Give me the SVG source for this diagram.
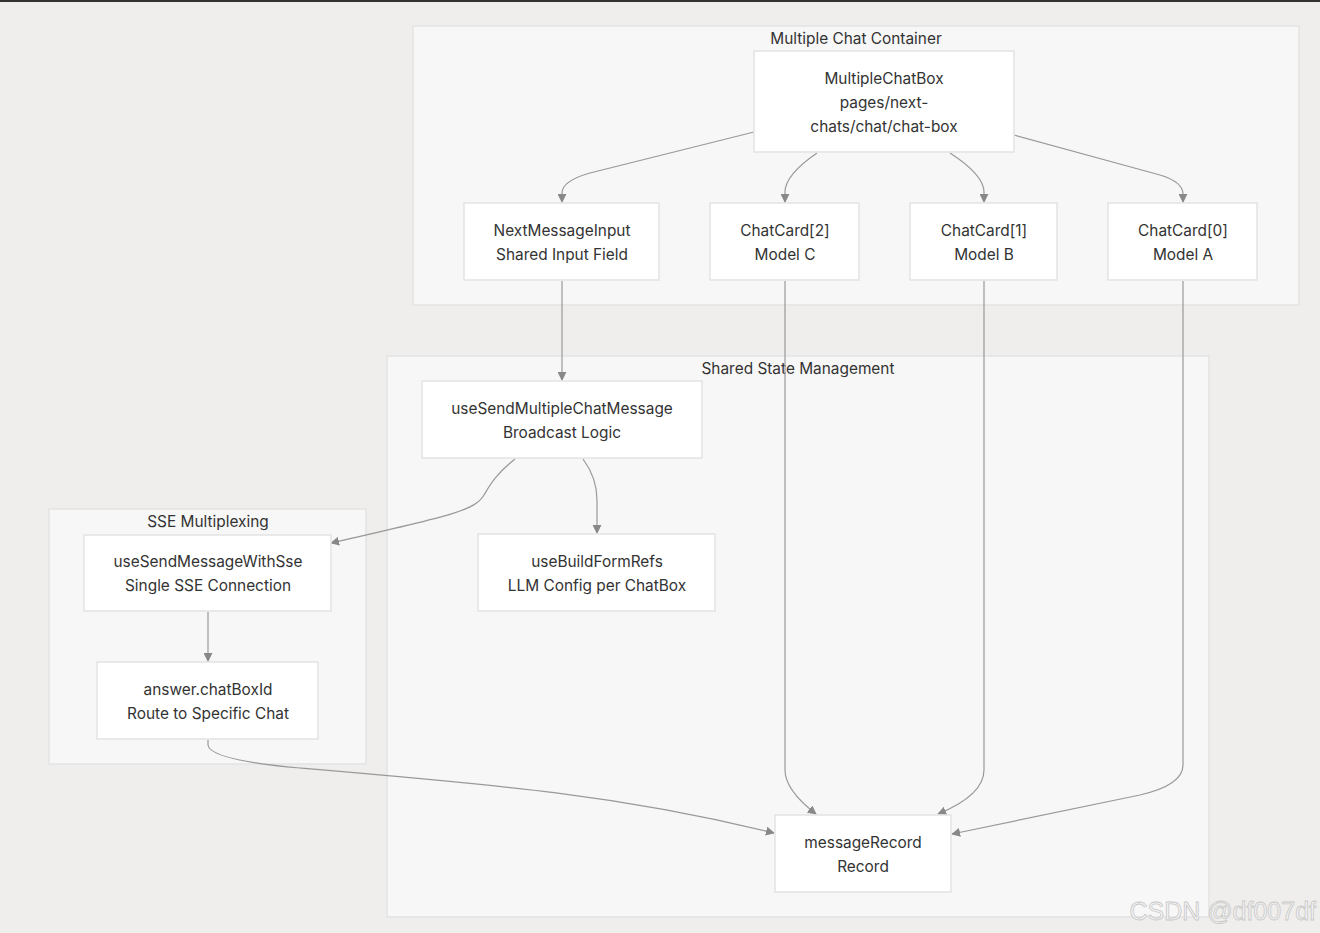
<svg xmlns="http://www.w3.org/2000/svg" width="1320" height="933" viewBox="0 0 1320 933">
<defs>
<style>
.cl{fill:#f7f7f7;stroke:#e3e3e3;stroke-width:1.5}
.nd{fill:#ffffff;stroke:#e3e3e3;stroke-width:1.5}
.t{font-family:Inter,"Liberation Sans",sans-serif;font-size:15.4px;fill:#333;text-anchor:middle}
.e{fill:none;stroke:#999;stroke-width:1.2}
.wm{font-family:"Liberation Sans",Arial,sans-serif;font-size:25px;fill:#f4f4f4;stroke:#c8c8c8;stroke-width:0.8;text-anchor:end}
</style>
<marker id="ah" viewBox="0 0 10 10" refX="9" refY="5" markerWidth="9" markerHeight="9" markerUnits="userSpaceOnUse" orient="auto">
<path d="M0,0 L10,5 L0,10 z" fill="#888"/>
</marker>
</defs>
<rect x="0" y="0" width="1320" height="933" fill="#efeeec"/>
<rect x="0" y="0" width="1320" height="2" fill="#333"/>

<g id="cluster-container">
<rect class="cl" x="413" y="26" width="886" height="279"/>
<text class="t" x="856" y="44">Multiple Chat Container</text>
</g>
<g id="cluster-state">
<rect class="cl" x="387" y="356" width="822" height="561"/>
<text class="t" x="798" y="374">Shared State Management</text>
</g>
<g id="cluster-sse">
<rect class="cl" x="49" y="509" width="317" height="255"/>
<text class="t" x="208" y="527">SSE Multiplexing</text>
</g>

<g id="connectors">
<path class="e" marker-end="url(#ah)" d="M754,132 L590,173 Q562,181 562,193 L562,202"/>
<path class="e" marker-end="url(#ah)" d="M817,153 Q785,175 785,192 L785,202"/>
<path class="e" marker-end="url(#ah)" d="M950,153 Q984,175 984,192 L984,202"/>
<path class="e" marker-end="url(#ah)" d="M1014,135 L1160,175 Q1183,182 1183,194 L1183,202"/>
<path class="e" marker-end="url(#ah)" d="M562,281 L562,380"/>
<path class="e" marker-end="url(#ah)" d="M515,459 C495,475 490,485 484,495 C475,510 455,515 331,543"/>
<path class="e" marker-end="url(#ah)" d="M583,459 Q597,478 597,500 L597,533"/>
<path class="e" marker-end="url(#ah)" d="M208,612 L208,661"/>
<path class="e" marker-end="url(#ah)" d="M208,740 L208,745 Q210,760 300,768 C500,785 620,795 774,833"/>
<path class="e" marker-end="url(#ah)" d="M785,281 L785,770 Q785,790 816,814"/>
<path class="e" marker-end="url(#ah)" d="M984,281 L984,770 Q984,795 938,814"/>
<path class="e" marker-end="url(#ah)" d="M1183,281 L1183,765 Q1183,785 1140,795 L952,834"/>
</g>

<g id="n-multiplechatbox">
<rect class="nd" x="754" y="51" width="260" height="101"/>
<text class="t" x="884" y="84">MultipleChatBox</text>
<text class="t" x="884" y="108">pages/next-</text>
<text class="t" x="884" y="132">chats/chat/chat-box</text>
</g>
<g id="n-nextmessageinput">
<rect class="nd" x="464" y="203" width="195" height="77"/>
<text class="t" x="562" y="236">NextMessageInput</text>
<text class="t" x="562" y="260">Shared Input Field</text>
</g>
<g id="n-chatcard2">
<rect class="nd" x="710" y="203" width="149" height="77"/>
<text class="t" x="785" y="236">ChatCard[2]</text>
<text class="t" x="785" y="260">Model C</text>
</g>
<g id="n-chatcard1">
<rect class="nd" x="910" y="203" width="147" height="77"/>
<text class="t" x="984" y="236">ChatCard[1]</text>
<text class="t" x="984" y="260">Model B</text>
</g>
<g id="n-chatcard0">
<rect class="nd" x="1108" y="203" width="149" height="77"/>
<text class="t" x="1183" y="236">ChatCard[0]</text>
<text class="t" x="1183" y="260">Model A</text>
</g>
<g id="n-usesendmultiple">
<rect class="nd" x="422" y="381" width="280" height="77"/>
<text class="t" x="562" y="414">useSendMultipleChatMessage</text>
<text class="t" x="562" y="438">Broadcast Logic</text>
</g>
<g id="n-usebuildformrefs">
<rect class="nd" x="478" y="534" width="237" height="77"/>
<text class="t" x="597" y="567">useBuildFormRefs</text>
<text class="t" x="597" y="591">LLM Config per ChatBox</text>
</g>
<g id="n-usesendmessagewithsse">
<rect class="nd" x="84" y="535" width="247" height="76"/>
<text class="t" x="208" y="567">useSendMessageWithSse</text>
<text class="t" x="208" y="591">Single SSE Connection</text>
</g>
<g id="n-answer">
<rect class="nd" x="97" y="662" width="221" height="77"/>
<text class="t" x="208" y="695">answer.chatBoxId</text>
<text class="t" x="208" y="719">Route to Specific Chat</text>
</g>
<g id="n-messagerecord">
<rect class="nd" x="775" y="815" width="176" height="77"/>
<text class="t" x="863" y="848">messageRecord</text>
<text class="t" x="863" y="872">Record</text>
</g>

<text class="wm" x="1316" y="920">CSDN @df007df</text>
</svg>
